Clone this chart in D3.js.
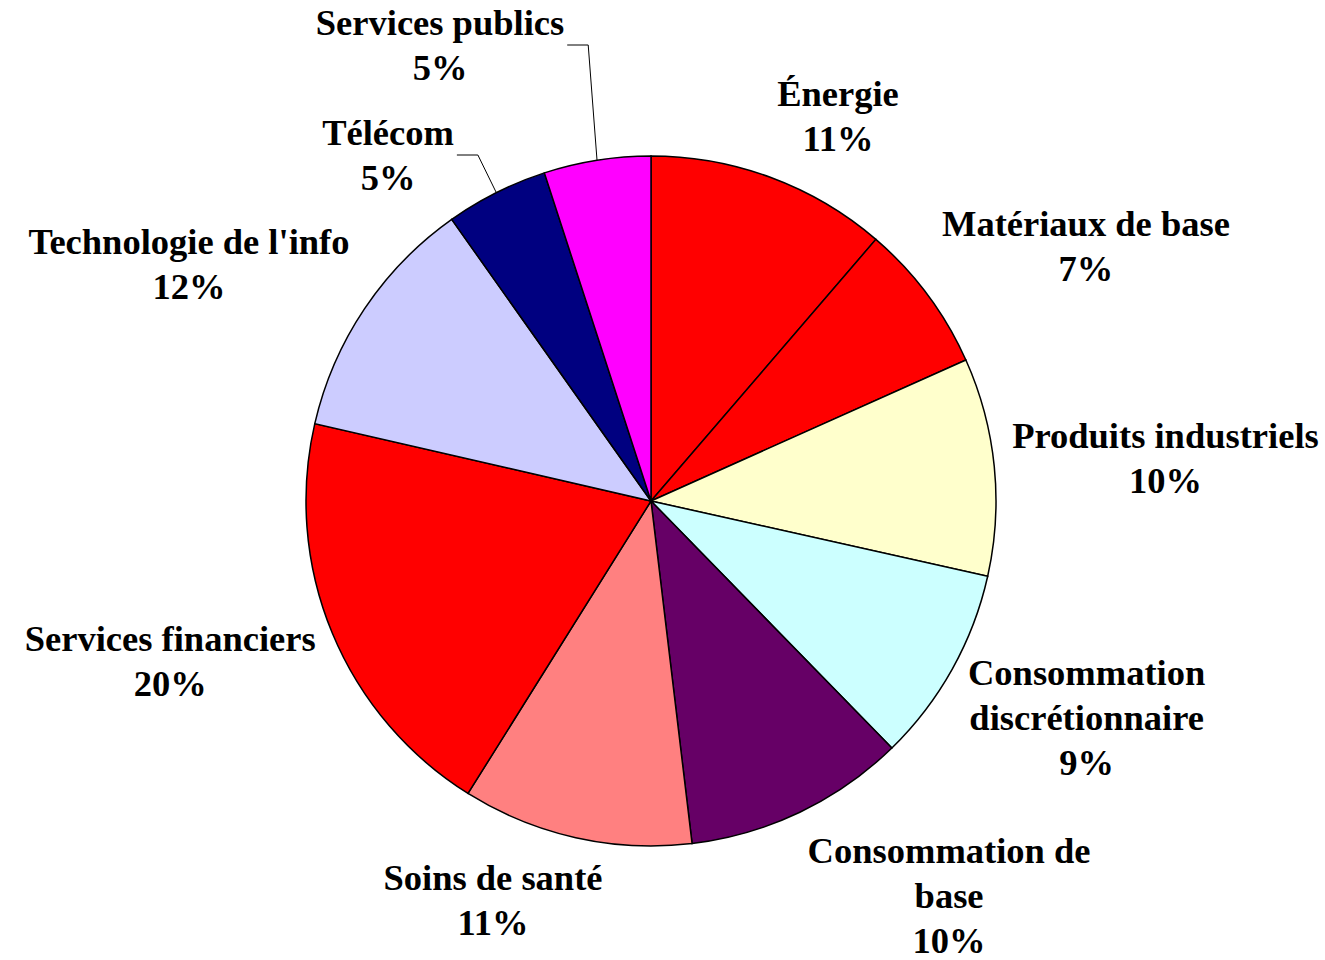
<!DOCTYPE html>
<html lang="fr">
<head>
    <meta charset="UTF-8">
    <script src="https://d3js.org/d3.v7.min.js"></script>
    <style>
        body {
            margin: 0;
            background: #fff;
            overflow: hidden;
        }
        .label {
            font-family: "Liberation Serif", "Times New Roman", serif;
            font-weight: bold;
            font-size: 36.5px;
            fill: #000;
            text-anchor: middle;
        }
        .slice {
            stroke: #000;
            stroke-width: 1.5px;
        }
        .leader {
            fill: none;
            stroke: #000;
            stroke-width: 1px;
        }
    </style>
</head>
<body>
    <svg id="chart"></svg>

    <script>
        // secteurs, dans l'ordre horaire depuis midi
        const categories = ["Énergie", "Matériaux de base", "Produits industriels",
            "Consommation discrétionnaire", "Consommation de base", "Soins de santé",
            "Services financiers", "Technologie de l'info", "Télécom", "Services publics"];
        const shares = [11.3, 7.0, 10.2, 9.2, 10.4, 10.8, 19.7, 11.6, 4.8, 5.0];
        const colors = ["#FF0000", "#FF0000", "#FFFFCC", "#CCFFFF", "#660066",
            "#FF8080", "#FF0000", "#CCCCFF", "#000080", "#FF00FF"];

        // étiquettes déplacées à la main (décalage depuis le centre du camembert)
        const movedLabels = {
            "Télécom": [-263, -346],
            "Services publics": [-211, -456]
        };

        function drawChart() {
            const width = 1325, height = 960;
            const cx = 651, cy = 501, radius = 345;
            const labelDist = radius + 18;
            const lineH = 45, wrapWidth = 360;

            const svg = d3.select("#chart")
                .attr("width", width)
                .attr("height", height);
            svg.selectAll("*").remove();

            const g = svg.append("g").attr("transform", `translate(${cx},${cy})`);

            const data = categories.map((c, i) => ({ name: c, value: shares[i], color: colors[i] }));
            const total = d3.sum(data, d => d.value);

            const pie = d3.pie().sort(null).value(d => d.value);
            const arc = d3.arc().innerRadius(0).outerRadius(radius);
            const arcs = pie(data);

            g.selectAll(".slice")
                .data(arcs)
                .enter().append("path")
                .attr("class", "slice")
                .attr("d", arc)
                .attr("fill", d => d.data.color);

            // mesure d'un texte
            const probe = g.append("text").attr("class", "label");
            const measure = t => { probe.text(t); return probe.node().getComputedTextLength(); };

            function wrap(text) {
                const words = text.split(" ");
                const lines = [];
                let cur = words[0];
                for (let i = 1; i < words.length; i++) {
                    const test = cur + " " + words[i];
                    if (measure(test) > wrapWidth) { lines.push(cur); cur = words[i]; }
                    else cur = test;
                }
                lines.push(cur);
                return lines;
            }

            const clamp = v => Math.max(-1, Math.min(1, v));

            arcs.forEach(d => {
                const mid = (d.startAngle + d.endAngle) / 2;
                const s = Math.sin(mid), c = Math.cos(mid);
                const lines = wrap(d.data.name);
                lines.push(Math.round(d.data.value / total * 100) + "%");
                const w = d3.max(lines, measure);
                const h = lines.length * lineH;

                let bx, by;
                const moved = movedLabels[d.data.name];
                if (moved) {
                    bx = moved[0]; by = moved[1];
                } else {
                    const px = labelDist * s, py = -labelDist * c;
                    bx = px + w / 2 * clamp(3.3 * s);
                    by = py + h / 2 * clamp(-(c > 0 ? 1.4 : 1.2) * c);
                }

                const top = by - h / 2;
                const t = g.append("text").attr("class", "label");
                lines.forEach((ln, i) => {
                    t.append("tspan")
                        .attr("x", bx)
                        .attr("y", top + 35 + i * lineH)
                        .text(ln);
                });

                if (moved) {
                    const x0 = bx + w / 2 + 3, y0 = by;
                    const ax = radius * s, ay = -radius * c;
                    g.append("polyline")
                        .attr("class", "leader")
                        .attr("points", [[x0, y0], [x0 + 21, y0], [ax, ay]].map(p => p.join(",")).join(" "));
                }
            });

            probe.remove();
        }

        drawChart();
    </script>
</body>
</html>
